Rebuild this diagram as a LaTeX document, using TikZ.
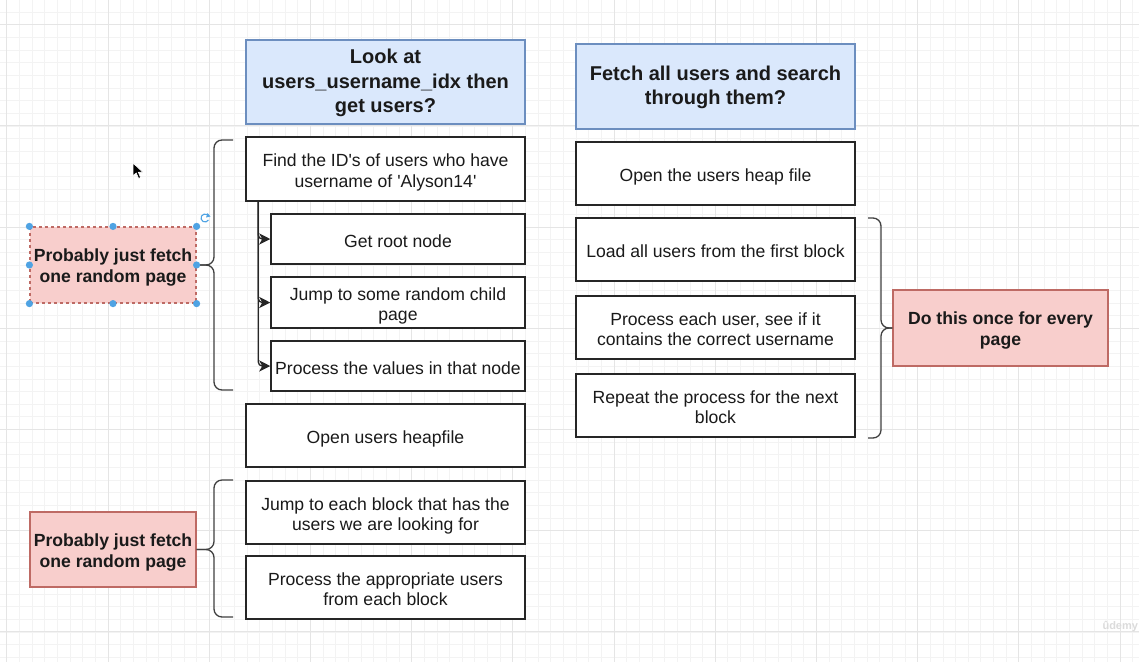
\documentclass[tikz,border=0pt]{standalone}
\usepackage{fontspec}
\setmainfont{Liberation Sans}
\usetikzlibrary{arrows.meta}

\definecolor{gridminor}{HTML}{F3F3F3}
\definecolor{gridmajor}{HTML}{E5E5E5}
\definecolor{bluefill}{HTML}{DAE8FC}
\definecolor{bluedraw}{HTML}{6C8EBF}
\definecolor{pinkfill}{HTML}{F8CECC}
\definecolor{pinkdraw}{HTML}{BE6A64}
\definecolor{inktext}{HTML}{1A1A1A}
\definecolor{handle}{HTML}{4FA3E3}

\newcommand{\regtext}{\fontsize{17.6}{20.5}\selectfont}
\newcommand{\headtext}{\fontsize{20}{24.5}\selectfont\bfseries}
\newcommand{\notetext}{\fontsize{17.6}{21}\selectfont\bfseries}
% struts that fix the first-line height and last-line depth of each label
\newcommand{\bx}{\rule{0pt}{21pt}}
\newcommand{\hx}{\rule{0pt}{17pt}}
\newcommand{\nx}{\rule{0pt}{19pt}}
\newcommand{\ex}{\rule[-5pt]{0pt}{5pt}}

\tikzset{
  box/.style={draw=black!85, line width=1.5pt, fill=white, align=center,
    inner sep=0pt, text=inktext, font=\regtext},
  header/.style={box, draw=bluedraw, line width=1.2pt, fill=bluefill, font=\headtext},
  note/.style={box, draw=pinkdraw, line width=1.2pt, fill=pinkfill, font=\notetext},
  brace/.style={draw=black!75, line width=1.3pt, rounded corners=8pt},
  conn/.style={draw=black!85, line width=1.3pt, rounded corners=4pt,
    -{Stealth[length=11pt,width=11pt,inset=3pt]}},
  selhandle/.style={fill=handle, draw=none},
}

\begin{document}
\begin{tikzpicture}[x=1pt, y=-1pt]
  % canvas and grid
  \fill[white] (0,0) rectangle (1139,662);
  \useasboundingbox (0,0) rectangle (1139,662);
  \foreach \i in {0,...,89}{
    \pgfmathsetmacro{\gx}{6.8+12.65*\i}
    \draw[gridminor, line width=0.8pt] (\gx,0) -- (\gx,662);
  }
  \foreach \j in {0,...,51}{
    \pgfmathsetmacro{\gy}{12.05+12.65*\j}
    \draw[gridminor, line width=0.8pt] (0,\gy) -- (1139,\gy);
  }
  \foreach \i in {0,...,11}{
    \pgfmathsetmacro{\gx}{6.8+101.2*\i}
    \draw[gridmajor, line width=1pt] (\gx,0) -- (\gx,662);
  }
  \foreach \j in {0,...,6}{
    \pgfmathsetmacro{\gy}{24.7+101.2*\j}
    \draw[gridmajor, line width=1pt] (0,\gy) -- (1139,\gy);
  }

  % column headers
  \node[header, minimum width=279pt, minimum height=84pt] (hdrL) at (385.5,82)
    {\hx Look at\\users\_username\_idx then\\get users?\ex};
  \node[header, minimum width=279pt, minimum height=85pt] (hdrR) at (715.5,86.5)
    {\hx Fetch all users and search\\through them?\ex};

  % index lookup column
  \node[box, minimum width=279pt, minimum height=64pt] (find) at (385.5,169)
    {\bx Find the ID\textquotesingle s of users who have\\username of \textquotesingle Alyson14\textquotesingle\ex};
  \node[box, minimum width=254pt, minimum height=50pt] (root) at (398,239)
    {\bx Get root node\ex};
  \node[box, minimum width=254pt, minimum height=51pt] (child) at (398,302.5)
    {\bx Jump to some random child\\page\ex};
  \node[box, minimum width=254pt, minimum height=50pt] (vals) at (398,366)
    {\bx Process the values in that node\ex};
  \node[box, minimum width=279pt, minimum height=63pt] (heap) at (385.5,435.5)
    {\bx Open users heapfile\ex};
  \node[box, minimum width=279pt, minimum height=63pt] (jump) at (385.5,512.5)
    {\bx Jump to each block that has the\\users we are looking for\ex};
  \node[box, minimum width=279pt, minimum height=63pt] (appr) at (385.5,587.5)
    {\bx Process the appropriate users\\from each block\ex};

  % full scan column
  \node[box, minimum width=279pt, minimum height=63pt] (openR) at (715.5,173.5)
    {\bx Open the users heap file\ex};
  \node[box, minimum width=279pt, minimum height=63pt] (load) at (715.5,249.5)
    {\bx Load all users from the first block\ex};
  \node[box, minimum width=279pt, minimum height=63pt] (each) at (715.5,327.5)
    {\bx Process each user, see if it\\contains the correct username\ex};
  \node[box, minimum width=279pt, minimum height=63pt] (rep) at (715.5,405.5)
    {\bx Repeat the process for the next\\block\ex};

  % notes
  \node[note, dashed, minimum width=166pt, minimum height=76pt] (noteA) at (113,265)
    {\nx Probably just fetch\\one random page\ex};
  \node[note, minimum width=166pt, minimum height=75pt] (noteB) at (113,549.5)
    {\nx Probably just fetch\\one random page\ex};
  \node[note, minimum width=215pt, minimum height=76pt] (noteC) at (1000.5,328)
    {\nx Do this once for every\\page\ex};

  % tree connectors
  \draw[conn] ([xshift=13pt]find.south west) |- (root.west);
  \draw[conn] ([xshift=13pt]find.south west) |- (child.west);
  \draw[conn] ([xshift=13pt]find.south west) |- (vals.west);

  % braces
  \draw[brace] (233,140) -- (214,140) -- (214,265) -- (noteA.east);
  \draw[brace] (233,390) -- (214,390) -- (214,265) -- (noteA.east);
  \draw[brace] (233,480) -- (214,480) -- (214,549.5) -- (noteB.east);
  \draw[brace] (233,617) -- (214,617) -- (214,549.5) -- (noteB.east);
  \draw[brace] (868,218) -- (881,218) -- (881,328) -- (noteC.west);
  \draw[brace] (868,438) -- (881,438) -- (881,328) -- (noteC.west);

  % selection handles on the first note
  \foreach \p in {noteA.north west, noteA.north, noteA.north east, noteA.west,
                  noteA.east, noteA.south west, noteA.south, noteA.south east}
    \fill[selhandle] (\p) circle (3.6pt);
  \draw[handle, line width=1.1pt] (205,218) ++(60:4pt) arc[start angle=60, end angle=330, radius=4pt];
  \fill[handle] (207.5,213) -- (210.5,216.5) -- (206,217.5) -- cycle;

  % pointer
  \filldraw[fill=black, draw=white, line width=0.6pt]
    (133,163) -- (133,176) -- (136.2,173) -- (138.6,178.4) -- (140.6,177.5)
    -- (138.3,172.3) -- (142.6,172) -- cycle;

  % watermark
  \node[text=black!14, font=\fontsize{11}{12}\selectfont\bfseries, anchor=west]
    (mark) at (1099,627) {ûdemy};
\end{tikzpicture}
\end{document}
